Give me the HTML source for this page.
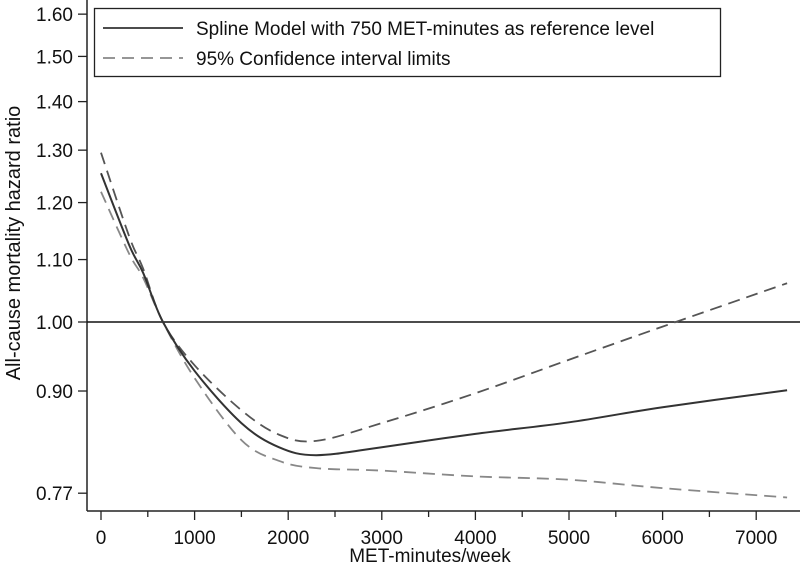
<!DOCTYPE html>
<html><head><meta charset="utf-8"><style>
body{margin:0;background:#fff;}
svg{display:block;font-family:"Liberation Sans",Arial,sans-serif;}
</style></head><body>
<svg id="chart" width="800" height="565" viewBox="0 0 800 565">
<g id="axes"></g><g id="series"></g>
<g>
<rect x="94.5" y="8.5" width="626" height="68" fill="#fff" stroke="#222" stroke-width="1.3"/>
<line x1="103" y1="28" x2="183" y2="28" stroke="#333" stroke-width="1.8"/>
<text x="196" y="35" font-size="19" fill="#111">Spline Model with 750 MET-minutes as reference level</text>
<line x1="103" y1="58" x2="183" y2="58" stroke="#888" stroke-width="1.8" stroke-dasharray="12,7"/>
<text x="196" y="65" font-size="19" fill="#111">95% Confidence interval limits</text>
</g>
</svg>
<script>
const xTicks=[0,1000,2000,3000,4000,5000,6000,7000];
const yTicks=[0.77,0.90,1.00,1.10,1.20,1.30,1.40,1.50,1.60];
const yTickLabels=["0.77","0.90","1.00","1.10","1.20","1.30","1.40","1.50","1.60"];
const xs=[0,300,450,662,1000,1500,1900,2300,3000,4000,5000,6000,7330];
const spline=[1.255,1.125,1.078,1.0,0.928,0.857,0.826,0.816,0.826,0.843,0.858,0.878,0.901];
const upper=[1.295,1.14,1.085,1.0,0.936,0.874,0.842,0.834,0.857,0.897,0.944,0.993,1.061];
const lower=[1.22,1.11,1.07,1.0,0.918,0.835,0.809,0.800,0.797,0.790,0.786,0.776,0.765];
const ns="http://www.w3.org/2000/svg";
const X=v=>101+v*0.0936;
const Y=v=>322-Math.log(v)*655;
const ax=document.getElementById('axes'), se=document.getElementById('series');
function mk(tag,at,p){const e=document.createElementNS(ns,tag);for(const k in at)e.setAttribute(k,at[k]);p.appendChild(e);return e;}
let l=mk('line',{x1:87,y1:0,x2:87,y2:511,stroke:'#222','stroke-width':1.5},ax);


l=mk('line',{x1:87,y1:511,x2:800,y2:511,stroke:'#222','stroke-width':1.5},ax);


yTicks.forEach((v,i)=>{
 const t=mk('line',{x1:78,x2:87,y1:Y(v),y2:Y(v),stroke:'#222','stroke-width':1.3},ax);
 
 
 const tx=mk('text',{x:73,y:Y(v)+7,'font-size':19,'text-anchor':'end',fill:'#111'},ax);
 tx.textContent=yTickLabels[i];
 
 
});
for(let v=0;v<=7000;v+=500){
 const t=mk('line',{x1:X(v),x2:X(v),y1:511,y2:v%1000?517:520,stroke:'#222','stroke-width':1.3},ax);
 
 
}
xTicks.forEach(v=>{
 const tx=mk('text',{x:X(v),y:544,'font-size':19,'text-anchor':'middle',fill:'#111'},ax);
 tx.textContent=v;
 
 
});
let tt=mk('text',{x:430,y:562,'font-size':19,'text-anchor':'middle',fill:'#111'},ax);
tt.textContent='MET-minutes/week';


tt=mk('text',{x:0,y:0,'font-size':20,'text-anchor':'middle',fill:'#111',transform:'translate(20,243) rotate(-90)'},ax);
tt.textContent='All-cause mortality hazard ratio';


l=mk('line',{x1:87,y1:Y(1),x2:800,y2:Y(1),stroke:'#111','stroke-width':1.6},ax);


function path(vals){
 const p=xs.map((x,i)=>[X(x),Y(vals[i])]);
 let d='M'+p[0][0]+','+p[0][1];
 for(let i=0;i<p.length-1;i++){
  const p0=p[i-1]||p[i],p1=p[i],p2=p[i+1],p3=p[i+2]||p2;
  d+=' C'+(p1[0]+(p2[0]-p0[0])/6)+','+(p1[1]+(p2[1]-p0[1])/6)+' '+(p2[0]-(p3[0]-p1[0])/6)+','+(p2[1]-(p3[1]-p1[1])/6)+' '+p2[0]+','+p2[1];
 }
 return d;
}
let s=mk('path',{d:path(upper),fill:'none',stroke:'#555','stroke-width':1.8,'stroke-dasharray':'12,7'},se);


s=mk('path',{d:path(lower),fill:'none',stroke:'#888','stroke-width':1.8,'stroke-dasharray':'12,7'},se);


s=mk('path',{d:path(spline),fill:'none',stroke:'#333','stroke-width':2},se);


</script>
</body></html>
